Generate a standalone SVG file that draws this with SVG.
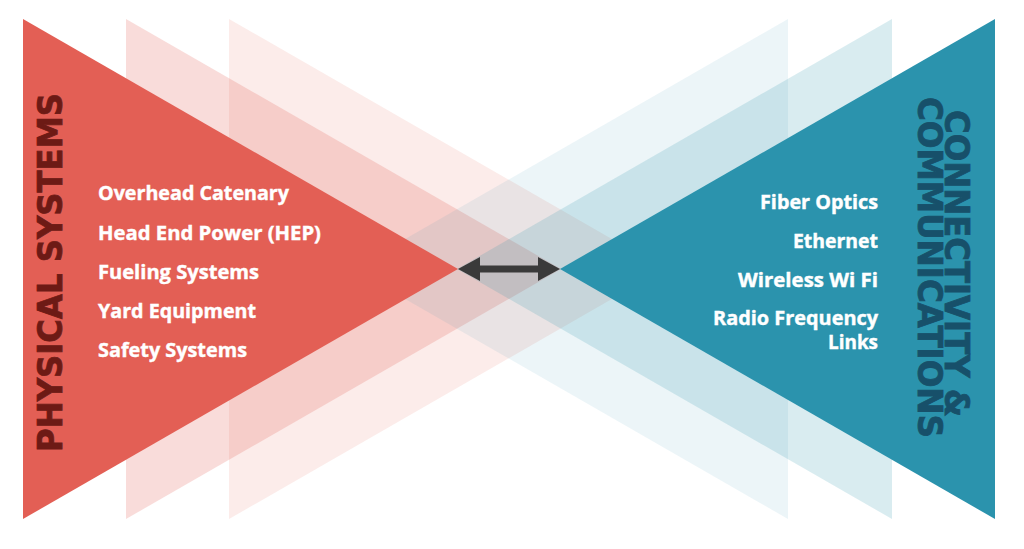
<svg xmlns="http://www.w3.org/2000/svg" width="1024" height="549" viewBox="0 0 1024 549">
<style>
.item{font-family:"Open Sans","Liberation Sans",sans-serif;font-weight:700;font-size:19px;fill:#ffffff;stroke:#ffffff;stroke-width:0.4}
.r{text-anchor:end}
.title{font-family:"DejaVu Sans","Liberation Sans",sans-serif;font-weight:700;font-size:33px;text-anchor:middle;stroke-width:0.8}
</style>
<rect width="1024" height="549" fill="#ffffff"/>
<g id="bands">
<polygon points="229,19 229,519 664,269" fill="#E35F55" fill-opacity="0.12"/>
<polygon points="126,19 126,519 561,269" fill="#E35F55" fill-opacity="0.22"/>
<polygon points="788,19 788,519 353,269" fill="#2B93AD" fill-opacity="0.09"/>
<polygon points="892,19 892,519 457,269" fill="#2B93AD" fill-opacity="0.18"/>
</g>
<g id="physical">
<polygon points="23,19 23,519 458,269" fill="#E35F55"/>
<text class="title" fill="#6D1A15" stroke="#6D1A15" transform="translate(62,272.5) rotate(-90)" textLength="359" lengthAdjust="spacingAndGlyphs">PHYSICAL SYSTEMS</text>
<text class="item" x="98" y="200" textLength="191" lengthAdjust="spacingAndGlyphs">Overhead Catenary</text>
<text class="item" x="98" y="239.5" textLength="223" lengthAdjust="spacingAndGlyphs">Head End Power (HEP)</text>
<text class="item" x="98" y="279" textLength="161" lengthAdjust="spacingAndGlyphs">Fueling Systems</text>
<text class="item" x="98" y="318" textLength="158" lengthAdjust="spacingAndGlyphs">Yard Equipment</text>
<text class="item" x="98" y="357" textLength="149" lengthAdjust="spacingAndGlyphs">Safety Systems</text>
</g>
<g id="connectivity">
<polygon points="995,19 995,519 560,269" fill="#2B93AD"/>
<text class="title" fill="#17506A" stroke="#17506A" transform="translate(945,263.5) rotate(90)" textLength="307" lengthAdjust="spacingAndGlyphs">CONNECTIVITY &amp;</text>
<text class="title" fill="#17506A" stroke="#17506A" transform="translate(918,267.5) rotate(90)" textLength="341" lengthAdjust="spacingAndGlyphs">COMMUNICATIONS</text>
<text class="item r" x="878" y="208.5" textLength="118" lengthAdjust="spacingAndGlyphs">Fiber Optics</text>
<text class="item r" x="878" y="247.5" textLength="85" lengthAdjust="spacingAndGlyphs">Ethernet</text>
<text class="item r" x="878" y="286.5" textLength="140" lengthAdjust="spacingAndGlyphs">Wireless Wi Fi</text>
<text class="item r" x="878" y="325" textLength="165" lengthAdjust="spacingAndGlyphs">Radio Frequency</text>
<text class="item r" x="878" y="348.5" textLength="50" lengthAdjust="spacingAndGlyphs">Links</text>
</g>
<g id="connectors">
<polygon points="458,269 480,257 480,265.5 538,265.5 538,257 560,269 538,281 538,272.5 480,272.5 480,281" fill="#3A3A3A"/>
</g>
</svg>
